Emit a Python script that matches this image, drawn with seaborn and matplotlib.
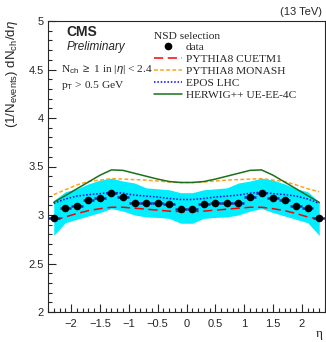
import numpy as np
import pandas as pd
import matplotlib
matplotlib.use("Agg")
import matplotlib.pyplot as plt
import seaborn as sns
from matplotlib.ticker import MultipleLocator

# Data
eta = [-2.3, -2.1, -1.9, -1.7, -1.5, -1.3, -1.1, -0.9, -0.7, -0.5, -0.3, -0.1,
       0.1, 0.3, 0.5, 0.7, 0.9, 1.1, 1.3, 1.5, 1.7, 1.9, 2.1, 2.3]

data = [2.973, 3.077, 3.093, 3.152, 3.176, 3.224, 3.190, 3.121, 3.121, 3.128, 3.110, 3.064,
        3.064, 3.110, 3.126, 3.126, 3.120, 3.190, 3.224, 3.176, 3.152, 3.093, 3.077, 2.973]

syst_up = [3.15, 3.24, 3.27, 3.32, 3.36, 3.38, 3.35, 3.33, 3.28, 3.27, 3.26, 3.23,
           3.23, 3.26, 3.27, 3.28, 3.33, 3.35, 3.38, 3.36, 3.32, 3.27, 3.24, 3.13]
syst_down = [2.79, 2.92, 2.955, 2.99, 3.025, 3.066, 3.04, 3.00, 2.98, 2.975, 2.965, 2.915,
             2.915, 2.965, 2.975, 2.98, 3.00, 3.04, 3.066, 3.025, 2.99, 2.955, 2.92, 2.79]

cuetm1 = [2.945, 2.98, 3.015, 3.045, 3.065, 3.08, 3.08, 3.07, 3.06, 3.05, 3.04, 3.035,
          3.035, 3.04, 3.05, 3.06, 3.07, 3.08, 3.08, 3.065, 3.045, 3.015, 2.98, 2.955]
monash = [3.21, 3.26, 3.31, 3.345, 3.36, 3.375, 3.37, 3.365, 3.36, 3.35, 3.34, 3.335,
          3.335, 3.34, 3.35, 3.36, 3.365, 3.37, 3.375, 3.36, 3.345, 3.31, 3.27, 3.24]
epos = [3.12, 3.165, 3.195, 3.21, 3.22, 3.235, 3.225, 3.205, 3.195, 3.185, 3.17, 3.16,
        3.16, 3.17, 3.185, 3.195, 3.205, 3.225, 3.235, 3.22, 3.21, 3.195, 3.165, 3.12]
herwig = [3.13, 3.20, 3.27, 3.34, 3.41, 3.465, 3.46, 3.43, 3.40, 3.37, 3.345, 3.335,
          3.335, 3.345, 3.37, 3.40, 3.43, 3.46, 3.465, 3.41, 3.34, 3.27, 3.20, 3.13]

models = ["PYTHIA8 CUETM1", "PYTHIA8 MONASH", "EPOS LHC", "HERWIG++ UE-EE-4C"]
model_values = [cuetm1, monash, epos, herwig]
model_colors = ["#ff0000", "#ffa31a", "#0000ff", "#1a701a"]
model_dashes = [(6, 3), (2.5, 1.5), (1, 1.2), ""]

df_data = pd.DataFrame({"eta": eta, "value": data, "up": syst_up, "down": syst_down})
df_mc = pd.concat([pd.DataFrame({"eta": eta, "value": v, "model": m})
                   for m, v in zip(models, model_values)])

sns.set_style("ticks")
plt.rcParams["font.family"] = ["Liberation Sans", "DejaVu Sans"]
plt.rcParams["mathtext.fontset"] = "custom"
plt.rcParams["mathtext.rm"] = "Liberation Sans"
plt.rcParams["mathtext.it"] = "Liberation Sans:italic"

fig = plt.figure(figsize=(3.26, 3.42), dpi=100)
ax = fig.add_axes([48 / 326, 1 - 312 / 342, 277 / 326, 291 / 342])

# systematic band
ax.fill_between(df_data["eta"], df_data["down"], df_data["up"], color="#00eeff", lw=0, zorder=1)

# model curves
sns.lineplot(data=df_mc, x="eta", y="value", hue="model", style="model",
             hue_order=models, style_order=models, palette=model_colors,
             dashes=model_dashes, lw=1.1, ax=ax, legend=False, zorder=3)

# data points with bin-width bars
ax.errorbar(df_data["eta"], df_data["value"], xerr=0.1, yerr=0.01, fmt="none",
            ecolor="#1a2fb0", elinewidth=1.8, capsize=0, zorder=4)
sns.scatterplot(data=df_data, x="eta", y="value", color="black", s=30,
                edgecolor="black", linewidth=0, ax=ax, zorder=5)

ax.set_xlim(-2.4, 2.4)
ax.set_ylim(2, 5)
ax.set_xlabel("")
ax.set_ylabel("")
ax.xaxis.set_minor_locator(MultipleLocator(0.1))
ax.yaxis.set_minor_locator(MultipleLocator(0.1))
ax.set_xticks([-2, -1.5, -1, -0.5, 0, 0.5, 1, 1.5, 2])
ax.set_xticklabels(["\u22122", "\u22121.5", "\u22121", "\u22120.5", "0", "0.5", "1", "1.5", "2"])
ax.set_yticks([2, 2.5, 3, 3.5, 4, 4.5, 5])
ax.set_yticklabels(["2", "2.5", "3", "3.5", "4", "4.5", "5"])
ax.tick_params(which="both", direction="in", top=False, right=False, labelsize=8, width=0.8)
ax.tick_params(which="major", length=6)
ax.tick_params(which="minor", length=3)
ax.tick_params(axis="x", pad=5)
ax.tick_params(axis="y", pad=3)
for s in ax.spines.values():
    s.set_linewidth(0.8)

# legend
handles = [plt.Line2D([], [], marker="o", ls="none", color="black", markersize=4.5)]
for c, d in zip(model_colors, model_dashes):
    h = plt.Line2D([], [], color=c, lw=1.1)
    if d:
        h.set_dashes(d)
    handles.append(h)
leg = ax.legend(handles, ["data"] + models, title="NSD selection", loc="upper left",
                bbox_to_anchor=(0.355, 0.99), frameon=False,
                prop={"family": "Liberation Serif", "size": 8.2},
                handlelength=2.4, handletextpad=0.35, labelspacing=0.18, borderpad=0.2)
leg.get_title().set_fontfamily("Liberation Serif")
leg.get_title().set_fontsize(8.2)
leg._legend_box.align = "left"
leg._legend_box.sep = 1

# annotations
fig.text(66 / 326, 1 - 32 / 342, "CMS", fontsize=10, fontweight="bold", va="center")
fig.text(67 / 326, 1 - 47 / 342, "Preliminary", fontsize=8.5, style="italic", va="center")
fig.text(61 / 326, 1 - 70 / 342, r"N$_{\rm ch}$ $\geq$ 1 in |$\eta$| < 2.4",
         fontsize=8.2, family="Liberation Serif", va="center")
fig.text(61 / 326, 1 - 85 / 342, r"p$_{\rm T}$ > 0.5 GeV",
         fontsize=8.2, family="Liberation Serif", va="center")
fig.text(322 / 326, 1 - 12 / 342, "(13 TeV)", fontsize=8, ha="right", va="center")
fig.text(12 / 326, 1 - 20 / 342, r"(1/N$_{\rm events}$) dN$_{\rm ch}$/d$\eta$",
         fontsize=9.5, rotation=90, ha="center", va="top")
fig.text(319 / 326, 1 - 334 / 342, "\u03b7", fontsize=9.5, ha="center", va="center",
         family="Liberation Serif")

fig.savefig("out.png", dpi=100)
